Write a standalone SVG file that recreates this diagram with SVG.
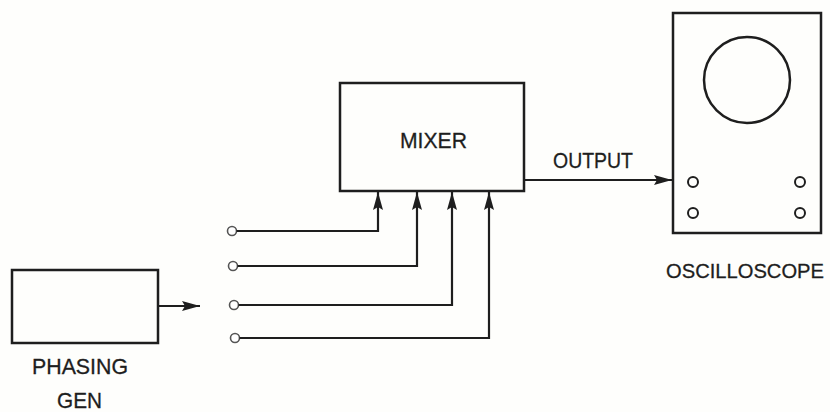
<svg xmlns="http://www.w3.org/2000/svg" width="830" height="412" viewBox="0 0 830 412">
<defs>
<marker id="arr" viewBox="0 0 18 10" refX="18" refY="5" markerWidth="18" markerHeight="10" markerUnits="userSpaceOnUse" orient="auto">
<path d="M0,0 L18,5 L0,10 L3,5 Z" fill="#1e1e1e"/>
</marker>
<style>
.box{fill:none;stroke:#1e1e1e;stroke-width:2.5}
.ln{fill:none;stroke:#1e1e1e;stroke-width:2.2}
.term{fill:#fff;stroke:#555;stroke-width:1.6}
.knob{fill:none;stroke:#1e1e1e;stroke-width:2}
.lbl{font-family:"Liberation Sans",Arial,sans-serif;font-size:22px;fill:#1e1e1e;stroke:#1e1e1e;stroke-width:0.3}
</style>
</defs>
<rect width="830" height="412" fill="#fefefc"/>
<g id="mixer">
<rect class="box" x="340" y="83" width="184" height="108"/>
<text class="lbl" x="400" y="148" textLength="67" lengthAdjust="spacingAndGlyphs">MIXER</text>
</g>
<g id="oscilloscope">
<rect class="box" x="673" y="13" width="148" height="220"/>
<circle class="box" cx="747" cy="80" r="43"/>
<circle class="knob" cx="693" cy="182" r="5"/>
<circle class="knob" cx="800" cy="182" r="5"/>
<circle class="knob" cx="693" cy="213" r="5"/>
<circle class="knob" cx="800" cy="213" r="5"/>
<text class="lbl" x="666" y="278" style="font-size:20.5px" textLength="158" lengthAdjust="spacingAndGlyphs">OSCILLOSCOPE</text>
</g>
<g id="phasing-gen">
<rect class="box" x="12" y="270" width="146" height="73"/>
<text class="lbl" x="32" y="374" textLength="96" lengthAdjust="spacingAndGlyphs">PHASING</text>
<text class="lbl" x="57" y="408" textLength="45" lengthAdjust="spacingAndGlyphs">GEN</text>
</g>
<g id="terminals">
<circle class="term" cx="232" cy="231" r="4.5"/>
<circle class="term" cx="233" cy="266" r="4.5"/>
<circle class="term" cx="234" cy="305" r="4.5"/>
<circle class="term" cx="235" cy="338" r="4.5"/>
</g>
<g id="connectors">
<path class="ln" d="M158,306 H200" marker-end="url(#arr)"/>
<path class="ln" d="M236.5,231 H378 V192" marker-end="url(#arr)"/>
<path class="ln" d="M237.5,266 H417 V192" marker-end="url(#arr)"/>
<path class="ln" d="M238.5,305 H452 V192" marker-end="url(#arr)"/>
<path class="ln" d="M239.5,338 H489 V192" marker-end="url(#arr)"/>
<path class="ln" d="M524,180 H672" marker-end="url(#arr)"/>
<text class="lbl" x="553" y="168" textLength="80" lengthAdjust="spacingAndGlyphs">OUTPUT</text>
</g>
</svg>
